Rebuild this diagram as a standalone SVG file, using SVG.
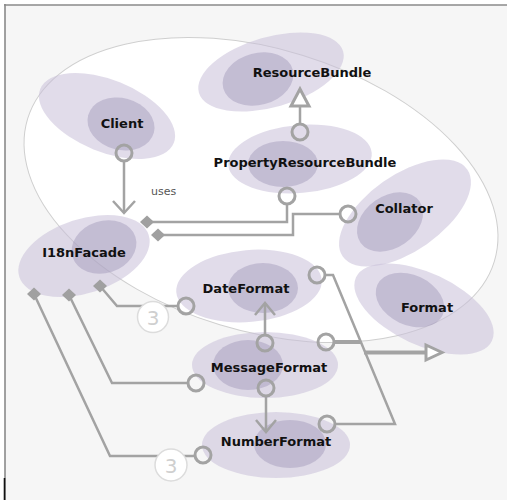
<svg xmlns="http://www.w3.org/2000/svg" width="507" height="500" viewBox="0 0 507 500">
  <style>
    .outer { fill: #c8bfd8; fill-opacity: 0.55; }
    .inner { fill: #a096b8; fill-opacity: 0.45; }
    .label { font-family: "DejaVu Sans", Verdana, sans-serif; font-weight: bold; font-size: 13px; fill: #111; text-anchor: middle; }
    .note { font-family: "DejaVu Sans", Verdana, sans-serif; font-size: 11px; fill: #555; }
    .line { fill: none; stroke: #a3a3a3; stroke-width: 2.5; stroke-linejoin: miter; }
    .thick { fill: none; stroke: #a3a3a3; stroke-width: 4; }
    .port { fill: none; stroke: #a3a3a3; stroke-width: 3; }
    .head { fill: #fff; stroke: #a3a3a3; stroke-width: 3; stroke-linejoin: miter; }
    .diamond { fill: #a0a0a0; }
    .badge { fill: #fff; stroke: #dcdcdc; stroke-width: 1.5; }
    .badge-text { font-family: "DejaVu Sans", Verdana, sans-serif; font-size: 20px; fill: #cfcfcf; text-anchor: middle; }
  </style>

  <!-- frame -->
  <rect x="0" y="0" width="507" height="500" fill="#ffffff"/>
  <rect x="5" y="5" width="502" height="495" fill="#f6f6f6"/>
  <line x1="4" y1="5" x2="507" y2="5" stroke="#8a8a8a" stroke-width="1.6"/>
  <line x1="5" y1="4" x2="5" y2="500" stroke="#8a8a8a" stroke-width="1.6"/>
  <line x1="4.5" y1="478" x2="4.5" y2="500" stroke="#111" stroke-width="1.6"/>

  <!-- package boundary -->
  <ellipse cx="261" cy="190" rx="244" ry="141" transform="rotate(17 261 190)" fill="#ffffff" stroke="#cfcfcf" stroke-width="1"/>

  <!-- nodes -->
  <g id="client">
    <ellipse class="outer" cx="107" cy="116" rx="72" ry="36" transform="rotate(22 107 116)"/>
    <ellipse class="inner" cx="121" cy="124" rx="34" ry="26" transform="rotate(15 121 124)"/>
    <text class="label" x="122" y="128">Client</text>
  </g>
  <g id="resource-bundle">
    <ellipse class="outer" cx="271" cy="72" rx="75" ry="35" transform="rotate(-16 271 72)"/>
    <ellipse class="inner" cx="258" cy="79" rx="36" ry="26" transform="rotate(-15 258 79)"/>
    <text class="label" x="312" y="77">ResourceBundle</text>
  </g>
  <g id="property-resource-bundle">
    <ellipse class="outer" cx="300" cy="159" rx="72" ry="34" transform="rotate(-5 300 159)"/>
    <ellipse class="inner" cx="283" cy="164" rx="35" ry="23"/>
    <text class="label" x="305" y="167">PropertyResourceBundle</text>
  </g>
  <g id="collator">
    <ellipse class="outer" cx="405" cy="213" rx="76" ry="38" transform="rotate(-35 405 213)"/>
    <ellipse class="inner" cx="390" cy="222" rx="36" ry="26" transform="rotate(-35 390 222)"/>
    <text class="label" x="404" y="213">Collator</text>
  </g>
  <g id="i18n-facade">
    <ellipse class="outer" cx="84" cy="256" rx="68" ry="37" transform="rotate(-18 84 256)"/>
    <ellipse class="inner" cx="104" cy="247" rx="33" ry="26" transform="rotate(-18 104 247)"/>
    <text class="label" x="84" y="257">I18nFacade</text>
  </g>
  <g id="date-format">
    <ellipse class="outer" cx="249" cy="286" rx="73" ry="36" transform="rotate(-5 249 286)"/>
    <ellipse class="inner" cx="263" cy="288" rx="35" ry="25"/>
    <text class="label" x="246" y="293">DateFormat</text>
  </g>
  <g id="format">
    <ellipse class="outer" cx="424" cy="309" rx="75" ry="36" transform="rotate(25 424 309)"/>
    <ellipse class="inner" cx="410" cy="300" rx="36" ry="25" transform="rotate(25 410 300)"/>
    <text class="label" x="427" y="312">Format</text>
  </g>
  <g id="message-format">
    <ellipse class="outer" cx="265" cy="365" rx="73" ry="33"/>
    <ellipse class="inner" cx="248" cy="365" rx="35" ry="25"/>
    <text class="label" x="269" y="372">MessageFormat</text>
  </g>
  <g id="number-format">
    <ellipse class="outer" cx="276" cy="445" rx="74" ry="33"/>
    <ellipse class="inner" cx="290" cy="444" rx="36" ry="24"/>
    <text class="label" x="276" y="446">NumberFormat</text>
  </g>

  <!-- connectors -->
  <g id="connectors">
    <!-- Client uses I18nFacade -->
    <circle class="port" cx="124" cy="153" r="8"/>
    <line class="line" x1="124" y1="161" x2="124" y2="213"/>
    <polyline class="line" points="113,201 124,213 135,201"/>
    <text class="note" x="151" y="195">uses</text>

    <!-- PropertyResourceBundle extends ResourceBundle -->
    <line class="line" x1="300" y1="106" x2="300" y2="124" stroke-width="3"/>
    <polygon class="head" points="300,89 291,106 309,106"/>
    <circle class="port" cx="300" cy="132" r="8"/>

    <!-- I18nFacade aggregates PropertyResourceBundle -->
    <circle class="port" cx="287" cy="196" r="8"/>
    <polyline class="line" points="287,204 287,222 150,222"/>
    <polygon class="diamond" points="140,222 147,215.5 154,222 147,228.5"/>

    <!-- I18nFacade aggregates Collator -->
    <circle class="port" cx="348" cy="214" r="8"/>
    <polyline class="line" points="340,214 293,214 293,235 161,235"/>
    <polygon class="diamond" points="151,235 158,228.5 165,235 158,241.5"/>

    <!-- I18nFacade aggregates DateFormat (3) -->
    <polyline class="line" points="100,286 117,306 178,306"/>
    <polygon class="diamond" points="93,286 100,279.5 107,286 100,292.5"/>
    <circle class="badge" cx="153" cy="317" r="15.5"/>
    <text class="badge-text" x="153" y="325">3</text>
    <circle class="port" cx="186" cy="306" r="8"/>

    <!-- I18nFacade aggregates MessageFormat -->
    <polyline class="line" points="69,295 112,383 188,383"/>
    <polygon class="diamond" points="62,295 69,288.5 76,295 69,301.5"/>
    <circle class="port" cx="196" cy="383" r="8"/>

    <!-- I18nFacade aggregates NumberFormat (3) -->
    <polyline class="line" points="34,294 110,456 195,456"/>
    <polygon class="diamond" points="27,294 34,287.5 41,294 34,300.5"/>
    <circle class="badge" cx="171" cy="465" r="16"/>
    <text class="badge-text" x="171" y="473">3</text>
    <circle class="port" cx="203" cy="455" r="8"/>

    <!-- MessageFormat uses DateFormat -->
    <circle class="port" cx="265" cy="343" r="8"/>
    <line class="line" x1="265" y1="335" x2="265" y2="303"/>
    <polyline class="line" points="255,315 265,303 275,315"/>

    <!-- MessageFormat uses NumberFormat -->
    <circle class="port" cx="266" cy="388" r="8"/>
    <line class="line" x1="266" y1="396" x2="266" y2="432"/>
    <polyline class="line" points="256,420 266,432 276,420"/>

    <!-- DateFormat, MessageFormat, NumberFormat extend Format -->
    <circle class="port" cx="317" cy="275" r="8"/>
    <circle class="port" cx="326" cy="342" r="8"/>
    <circle class="port" cx="327" cy="424" r="8"/>
    <polyline class="line" points="325,275 333,275 395,424 335,424"/>
    <line class="thick" x1="334" y1="342" x2="361" y2="342"/>
    <line class="thick" x1="364" y1="352.5" x2="426" y2="352.5"/>
    <polygon class="head" points="426,345 442,352.5 426,360"/>
  </g>
</svg>
